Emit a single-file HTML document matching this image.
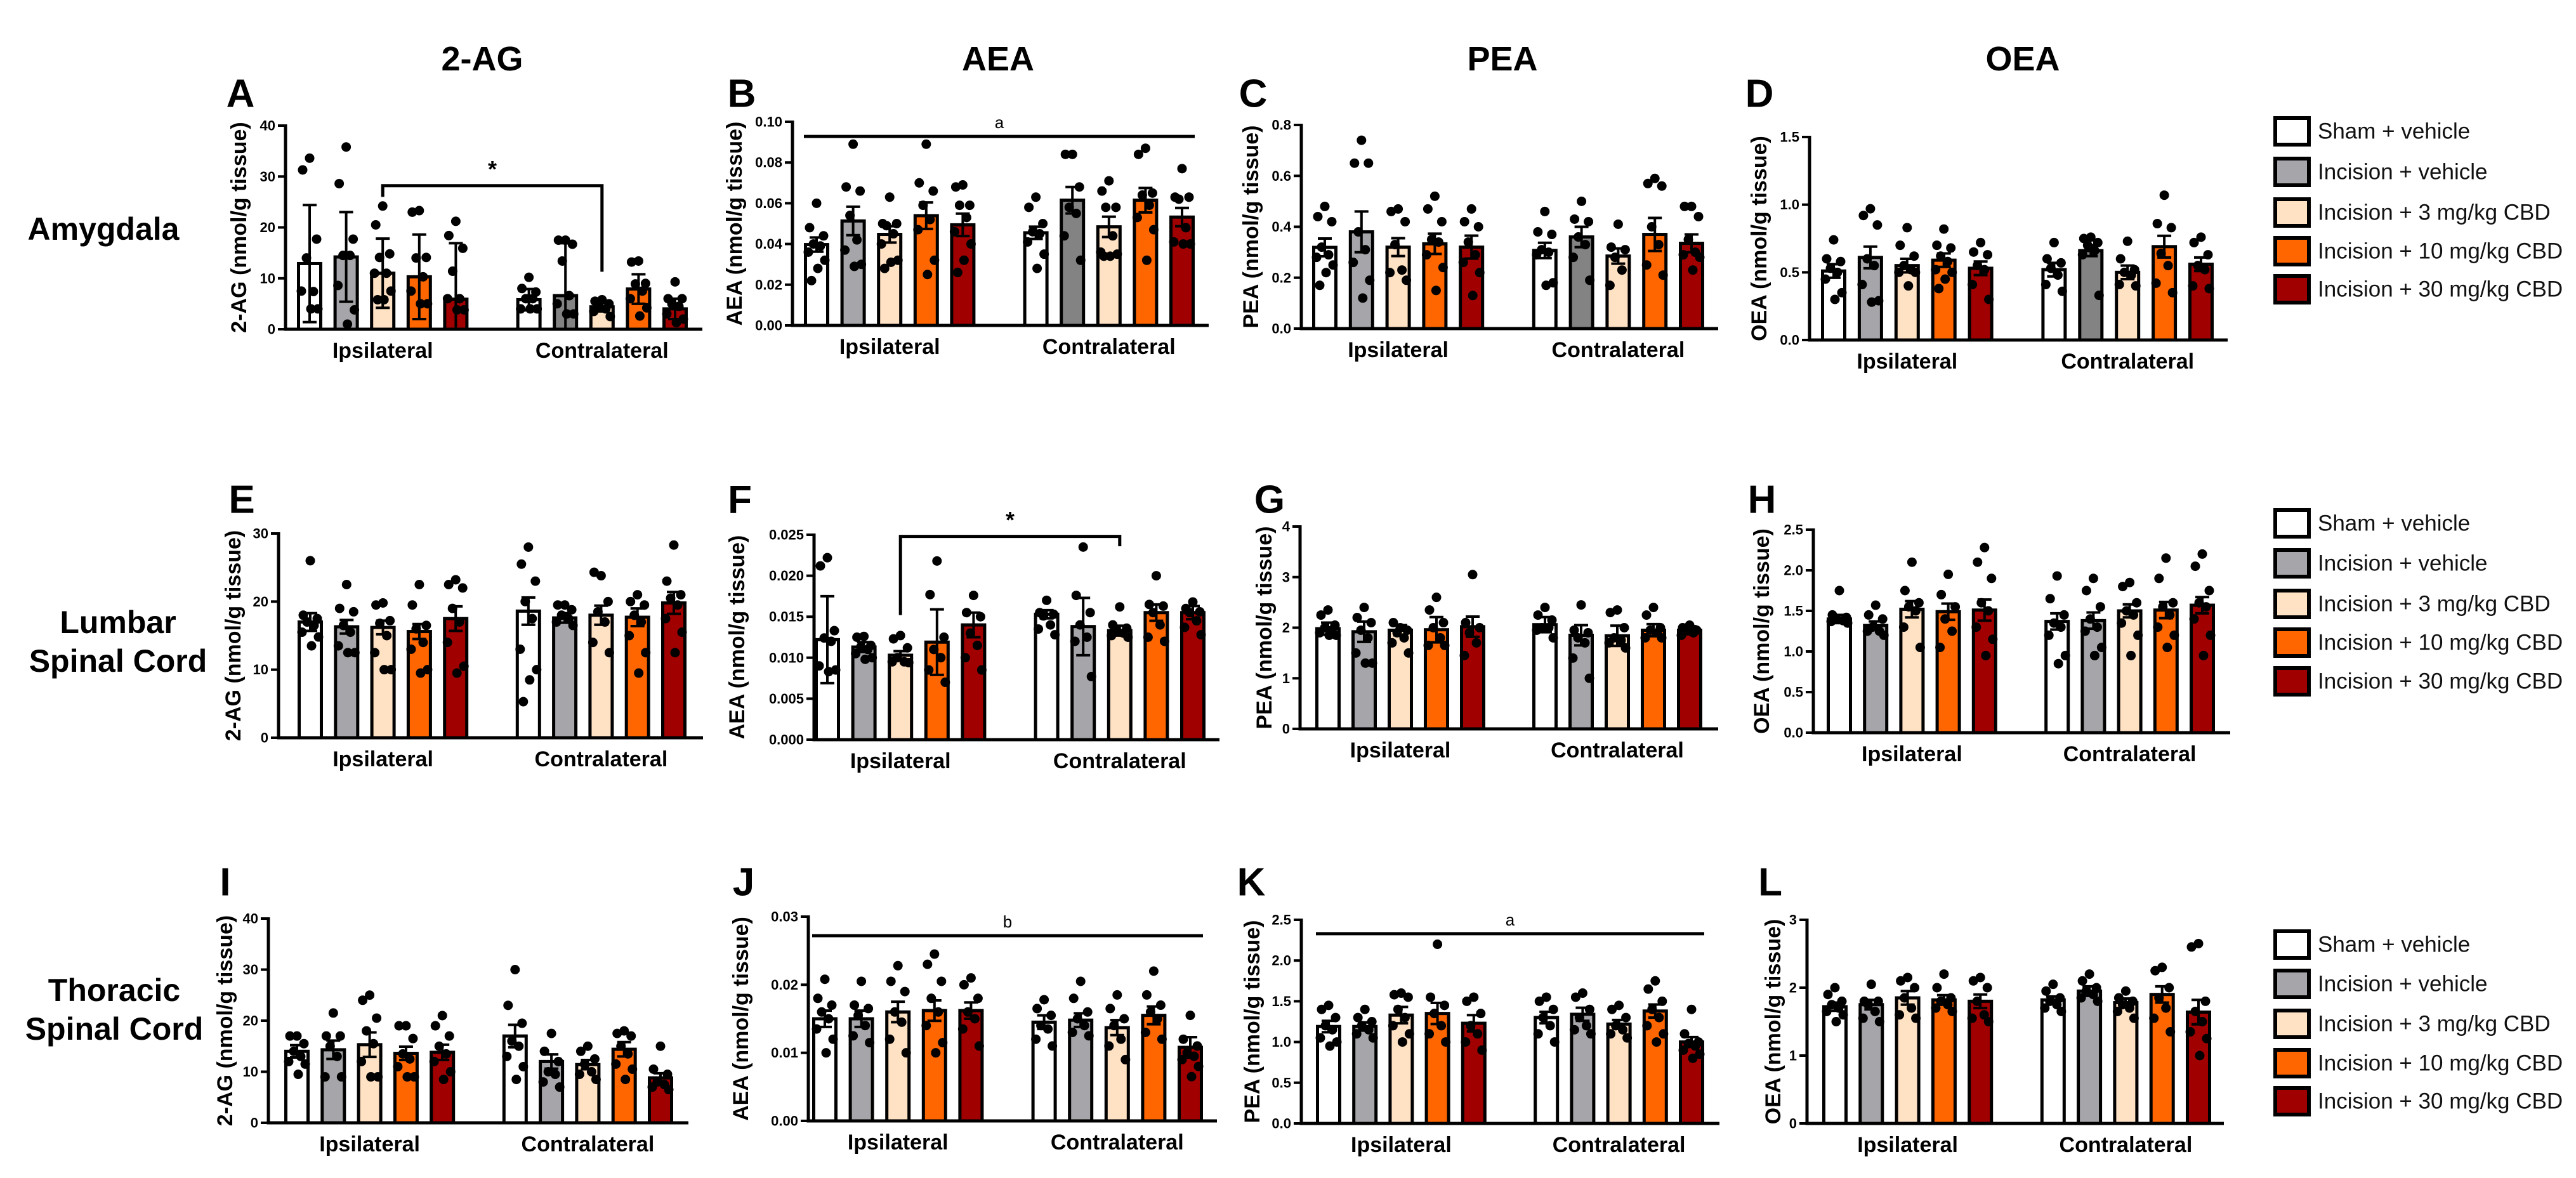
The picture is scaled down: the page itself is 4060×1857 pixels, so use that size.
<!DOCTYPE html>
<html><head><meta charset="utf-8"><style>
html,body{margin:0;padding:0;background:#fff;}
svg{display:block;font-family:"Liberation Sans",Arial,sans-serif;}
</style></head><body>
<svg id="fig" width="4060" height="1857" viewBox="0 0 4060 1857" xmlns="http://www.w3.org/2000/svg"></svg>
<script>
// ---------- DATA ----------
const groupNames = ["Sham + vehicle","Incision + vehicle","Incision + 3 mg/kg CBD","Incision + 10 mg/kg CBD","Incision + 30 mg/kg CBD"];
const sides = ["Ipsilateral","Contralateral"];

const A_ticks = ["0","10","20","30","40"];
const A_means = [12.9,14.2,11.0,10.3,5.9, 5.8,6.6,4.4,7.9,4.0];
const A_err = [11.5,8.8,6.8,8.3,11.0, 2.1,10.3,0.9,2.9,2.0];
const A_pts = [[33.6,31.3,17.7,14.0,7.4,7.5,4.0,4.0],[35.8,28.6,17.7,14.5,14.5,8.6,3.8,1.0],[24.2,20.5,14.8,14.1,11.0,11.0,7.5,5.8,5.8],[23.3,23.0,14.1,14.0,10.3,7.5,5.0,5.0],[21.2,18.4,15.9,11.4,6.0,6.0,3.8,3.8],
 [10.2,8.0,7.3,6.0,6.0,4.0,4.0,4.0],[17.5,17.5,16.7,13.4,6.6,5.0,3.0,3.0],[5.8,5.5,5.0,4.6,4.0,3.5,2.5],[13.4,13.2,9.0,8.9,7.5,6.0,4.2,2.6],[9.3,6.0,6.0,5.0,4.5,3.0,2.0,1.3]];

const B_ticks = ["0.00","0.02","0.04","0.06","0.08","0.10"];
const B_means = [0.0397,0.0513,0.0447,0.0539,0.0494, 0.0455,0.0615,0.0484,0.0615,0.0532];
const B_err = [0.0035,0.007,0.004,0.0065,0.0055, 0.003,0.0065,0.005,0.006,0.0045];
const B_pts = [[0.060,0.048,0.044,0.040,0.039,0.036,0.032,0.028,0.022],[0.089,0.068,0.066,0.054,0.042,0.037,0.030,0.029],[0.063,0.050,0.050,0.049,0.045,0.040,0.032,0.031,0.028],[0.089,0.070,0.066,0.059,0.052,0.047,0.032,0.025],[0.069,0.068,0.059,0.059,0.053,0.046,0.040,0.032,0.026],
 [0.063,0.058,0.050,0.046,0.045,0.041,0.035,0.028],[0.084,0.084,0.068,0.058,0.055,0.044,0.032],[0.071,0.066,0.058,0.058,0.044,0.036,0.035,0.034,0.034],[0.087,0.084,0.065,0.064,0.059,0.053,0.047,0.032],[0.077,0.063,0.063,0.062,0.048,0.041,0.040,0.040]];

const C_ticks = ["0.0","0.2","0.4","0.6","0.8"];
const C_means = [0.319,0.38,0.32,0.333,0.32, 0.307,0.36,0.285,0.37,0.335];
const C_err = [0.035,0.08,0.035,0.04,0.045, 0.03,0.04,0.03,0.065,0.035];
const C_pts = [[0.48,0.44,0.42,0.32,0.29,0.28,0.25,0.22,0.17],[0.74,0.65,0.65,0.38,0.31,0.26,0.19,0.12],[0.47,0.46,0.42,0.33,0.23,0.22,0.19],[0.52,0.47,0.42,0.35,0.34,0.29,0.24,0.15],[0.47,0.42,0.40,0.34,0.29,0.26,0.22,0.13],
 [0.46,0.38,0.37,0.31,0.30,0.29,0.18,0.17],[0.50,0.43,0.42,0.36,0.33,0.28,0.19],[0.41,0.32,0.31,0.28,0.23,0.17],[0.59,0.57,0.56,0.40,0.33,0.25,0.21],[0.48,0.48,0.44,0.35,0.30,0.29,0.28,0.23]];

const D_ticks = ["0.0","0.5","1.0","1.5"];
const D_means = [0.51,0.61,0.55,0.59,0.53, 0.52,0.66,0.50,0.69,0.56];
const D_err = [0.05,0.08,0.05,0.05,0.05, 0.05,0.04,0.05,0.08,0.05];
const D_pts = [[0.74,0.60,0.58,0.53,0.50,0.45,0.35,0.30],[0.97,0.92,0.85,0.60,0.55,0.41,0.29,0.28],[0.83,0.70,0.62,0.55,0.52,0.50,0.50,0.40],[0.82,0.70,0.68,0.62,0.58,0.52,0.50,0.45,0.38],[0.72,0.65,0.63,0.55,0.52,0.41,0.30],
 [0.72,0.60,0.57,0.53,0.48,0.41,0.36],[0.76,0.75,0.72,0.70,0.66,0.63,0.33],[0.73,0.60,0.52,0.50,0.48,0.41,0.40],[1.07,0.86,0.83,0.64,0.55,0.42,0.35],[0.76,0.72,0.63,0.55,0.52,0.40,0.38]];

const E_ticks = ["0","10","20","30"];
const E_means = [17.0,16.3,16.2,15.6,17.5, 18.6,17.6,18.0,17.7,19.8];
const E_err = [1.3,1.0,1.0,1.1,1.8, 2.0,0.7,1.4,1.3,1.6];
const E_pts = [[26.0,18.0,17.5,17.0,16.5,15.5,14.8,13.5],[22.5,19.0,18.5,16.5,15.5,13.5,12.5,12.5],[19.8,19.5,17.2,16.8,15.0,12.5,10.0,10.0],[22.5,19.5,16.5,16.0,14.0,13.0,10.0,9.5],[23.2,22.5,22.0,19.0,17.0,14.0,10.5,9.5],
 [28.0,25.5,23.0,20.0,17.5,13.0,10.0,8.5,5.3],[19.5,19.5,18.8,18.0,17.5,17.0,16.5],[23.8,24.3,20.0,18.5,17.0,14.0,12.5],[21.0,20.0,19.5,18.0,17.0,15.0,12.5,9.5],[28.3,23.0,21.0,20.5,19.5,17.5,15.5,12.5]];

const F_ticks = ["0.000","0.005","0.010","0.015","0.020","0.025"];
const F_means = [0.0122,0.0113,0.0103,0.0119,0.0140, 0.0153,0.0138,0.0133,0.0155,0.0155];
const F_err = [0.0053,0.0006,0.0005,0.0040,0.0015, 0.0005,0.0035,0.0006,0.0010,0.0008];
const F_pts = [[0.0222,0.0212,0.0133,0.0124,0.0120,0.0090,0.0085,0.0083],[0.0126,0.0125,0.0115,0.0113,0.0110,0.0105,0.0100,0.0098],[0.0127,0.0123,0.0112,0.0100,0.0095,0.0095,0.0094],[0.0218,0.0177,0.0125,0.0110,0.0100,0.0085,0.0070],[0.0176,0.0155,0.0150,0.0130,0.0115,0.0100,0.0085],
 [0.0170,0.0155,0.0153,0.0151,0.0140,0.0135,0.0128],[0.0235,0.0176,0.0155,0.0140,0.0125,0.0120,0.0077],[0.0162,0.0140,0.0136,0.0132,0.0130,0.0127,0.0125],[0.0200,0.0165,0.0163,0.0155,0.0140,0.0125,0.0120],[0.0168,0.0160,0.0156,0.0155,0.0145,0.0137,0.0128]];

const G_ticks = ["0","1","2","3","4"];
const G_means = [1.98,1.92,1.95,1.96,2.02, 2.06,1.85,1.84,1.95,1.95];
const G_err = [0.12,0.2,0.1,0.25,0.2, 0.15,0.2,0.2,0.12,0.08];
const G_pts = [[2.35,2.25,2.05,2.0,1.95,1.9,1.85,1.85],[2.4,2.2,2.1,1.95,1.8,1.5,1.3,1.3],[2.0,2.1,1.95,1.9,1.8,1.7,1.5],[2.6,2.35,2.1,2.0,1.8,1.65,1.65],[3.05,2.1,2.0,1.9,1.7,1.45],
 [2.4,2.25,2.15,2.0,2.0,1.95,1.8],[2.45,1.95,1.9,1.8,1.7,1.4,1.0],[2.35,2.3,2.0,1.8,1.75,1.7,1.6],[2.4,2.25,2.0,1.95,1.9,1.8,1.8],[2.05,2.0,1.95,1.95,1.9,1.85]];

const H_ticks = ["0.0","0.5","1.0","1.5","2.0","2.5"];
const H_means = [1.40,1.32,1.52,1.49,1.51, 1.37,1.38,1.50,1.51,1.57];
const H_err = [0.05,0.05,0.1,0.1,0.13, 0.1,0.1,0.08,0.1,0.1];
const H_pts = [[1.75,1.45,1.42,1.40,1.38,1.37,1.35],[1.57,1.45,1.40,1.30,1.25,1.25,1.2],[2.1,1.75,1.6,1.55,1.5,1.3,1.05],[1.95,1.7,1.55,1.4,1.25,1.05],[2.28,2.1,1.9,1.6,1.5,1.3,1.15,0.95],
 [1.93,1.65,1.45,1.35,1.3,1.2,0.95,0.85],[1.9,1.75,1.55,1.4,1.3,1.25,1.05,0.95],[1.85,1.8,1.6,1.5,1.45,1.35,1.2,0.95],[2.15,1.9,1.6,1.55,1.45,1.3,1.2,1.05],[2.2,2.05,1.75,1.6,1.55,1.4,1.2,0.95]];

const I_ticks = ["0","10","20","30","40"];
const I_means = [14.0,14.3,15.3,13.6,13.8, 17.0,12.0,11.4,14.4,8.8];
const I_err = [1.2,1.8,2.4,1.3,1.5, 2.2,1.4,0.9,1.4,0.9];
const I_pts = [[17.0,17.0,15.5,14.0,13.0,12.0,11.5,9.5],[21.5,17.0,17.0,15.0,13.0,9.0,9.0],[25.0,24.0,20.5,18.0,15.5,12.0,9.0,9.0],[19.0,19.0,16.5,13.5,12.5,11.0,9.0,9.0],[21.0,19.0,17.0,15.0,13.5,12.0,10.0,8.5],
 [30.0,23.0,19.5,16.0,15.0,13.0,11.0,8.5],[17.5,14.0,12.0,10.0,9.5,8.0,7.0],[15.0,14.0,12.5,11.5,10.0,9.5,8.5],[18.0,17.5,17.0,15.0,13.5,11.5,10.5,8.5],[15.0,10.5,9.5,8.0,7.5,7.0,6.5]];

const J_ticks = ["0.00","0.01","0.02","0.03"];
const J_means = [0.0150,0.0150,0.0160,0.0162,0.0162, 0.0145,0.0148,0.0137,0.0155,0.0108];
const J_err = [0.0012,0.0012,0.0015,0.0015,0.0012, 0.001,0.001,0.0011,0.0013,0.0015];
const J_pts = [[0.0208,0.0180,0.0170,0.0160,0.0150,0.0135,0.0120,0.0100],[0.0205,0.0170,0.0165,0.0155,0.0140,0.0125,0.0115],[0.0228,0.0205,0.0190,0.0160,0.0145,0.0120,0.0100],[0.0245,0.0230,0.0205,0.0180,0.0160,0.0140,0.0115,0.0100],[0.0210,0.0200,0.0180,0.0160,0.0150,0.0135,0.0110],
 [0.0178,0.0165,0.0155,0.0140,0.0135,0.0120,0.0110],[0.0205,0.0180,0.0160,0.0150,0.0140,0.0130,0.0125],[0.0185,0.0165,0.0150,0.0140,0.0120,0.0110,0.0090],[0.0220,0.0185,0.0170,0.0160,0.0150,0.0130,0.0120],[0.0155,0.0120,0.0110,0.0100,0.0095,0.0090,0.0080,0.0065]];

const K_ticks = ["0.0","0.5","1.0","1.5","2.0","2.5"];
const K_means = [1.19,1.19,1.33,1.35,1.23, 1.30,1.34,1.22,1.38,1.00];
const K_err = [0.07,0.05,0.1,0.13,0.1, 0.07,0.08,0.05,0.08,0.06];
const K_pts = [[1.45,1.40,1.30,1.20,1.15,1.05,1.0,0.95],[1.40,1.30,1.25,1.20,1.15,1.10,1.05],[1.60,1.58,1.55,1.40,1.30,1.20,1.10,1.00],[2.20,1.55,1.45,1.35,1.20,1.10,1.00],[1.55,1.50,1.35,1.20,1.10,1.00,0.90],
 [1.55,1.50,1.40,1.30,1.20,1.10,1.00],[1.60,1.55,1.40,1.30,1.20,1.15,1.10],[1.45,1.40,1.30,1.20,1.15,1.10,1.05],[1.75,1.65,1.50,1.40,1.30,1.20,1.10,1.00],[1.40,1.10,1.00,0.98,0.95,0.90,0.85,0.80]];

const L_ticks = ["0","1","2","3"];
const L_means = [1.72,1.75,1.85,1.82,1.80, 1.82,1.95,1.78,1.90,1.64];
const L_err = [0.06,0.07,0.1,0.07,0.1, 0.05,0.07,0.06,0.12,0.18];
const L_pts = [[2.0,1.9,1.8,1.75,1.7,1.65,1.6,1.5],[2.05,1.8,1.8,1.75,1.65,1.55,1.5],[2.15,2.1,2.0,1.85,1.7,1.6,1.55],[2.2,2.0,1.85,1.8,1.75,1.7,1.65],[2.15,2.1,2.0,1.8,1.6,1.55,1.5],
 [2.05,1.95,1.85,1.8,1.75,1.7,1.65],[2.2,2.1,2.0,1.95,1.9,1.85,1.8],[1.95,1.85,1.8,1.75,1.7,1.65,1.55],[2.3,2.25,2.0,1.85,1.7,1.55,1.35],[2.65,2.6,1.8,1.65,1.5,1.35,1.25,1.0]];

// ---------- STYLE / LAYOUT ----------
const NS = "http://www.w3.org/2000/svg";
const svg = document.getElementById("fig");
const fillLight = ["#ffffff","#a6a6aa","#ffe1c4","#ff6600","#a00000"];
const fillRow1Contra = ["#ffffff","#838383","#ffe1c4","#ff6600","#a00000"];
const jitter = [0,-11,11,-5,6,-13,13,2,-8,9];

function mk(tag, attrs, parent, text){
  const el = document.createElementNS(NS, tag);
  for (const k in attrs) el.setAttribute(k, attrs[k]);
  if (text !== undefined) el.textContent = text;
  (parent || svg).appendChild(el);
  return el;
}

const panels = [
 {id:"A", ytitle:"2-AG (nmol/g tissue)", means:A_means, err:A_err, pts:A_pts, ticks:A_ticks, ax:450, top:198, zero:519, first:488, last:1064, end:1107, tx:377, lx:379, ly:148, row:1},
 {id:"B", ytitle:"AEA (nmol/g tissue)", means:B_means, err:B_err, pts:B_pts, ticks:B_ticks, ax:1249, top:192, zero:513, first:1287, last:1863, end:1905, tx:1158, lx:1169, ly:148, row:1},
 {id:"C", ytitle:"PEA (nmol/g tissue)", means:C_means, err:C_err, pts:C_pts, ticks:C_ticks, ax:2051, top:197, zero:518, first:2088, last:2666, end:2708, tx:1972, lx:1975, ly:148, row:1},
 {id:"D", ytitle:"OEA (nmol/g tissue)", means:D_means, err:D_err, pts:D_pts, ticks:D_ticks, ax:2852, top:216, zero:536, first:2890, last:3469, end:3511, tx:2773, lx:2773, ly:148, row:1},
 {id:"E", ytitle:"2-AG (nmol/g tissue)", means:E_means, err:E_err, pts:E_pts, ticks:E_ticks, ax:439, top:841, zero:1163, first:489, last:1062, end:1108, tx:368, lx:381, ly:788, row:2},
 {id:"F", ytitle:"AEA (nmol/g tissue)", means:F_means, err:F_err, pts:F_pts, ticks:F_ticks, ax:1283, top:843, zero:1166, first:1304, last:1880, end:1922, tx:1162, lx:1166, ly:788, row:2},
 {id:"G", ytitle:"PEA (nmol/g tissue)", means:G_means, err:G_err, pts:G_pts, ticks:G_ticks, ax:2049, top:830, zero:1149, first:2093, last:2663, end:2708, tx:1993, lx:2001, ly:788, row:2},
 {id:"H", ytitle:"OEA (nmol/g tissue)", means:H_means, err:H_err, pts:H_pts, ticks:H_ticks, ax:2858, top:835, zero:1155, first:2899, last:3471, end:3515, tx:2777, lx:2777, ly:788, row:2},
 {id:"I", ytitle:"2-AG (nmol/g tissue)", means:I_means, err:I_err, pts:I_pts, ticks:I_ticks, ax:423, top:1448, zero:1770, first:468, last:1041, end:1085, tx:355, lx:355, ly:1391, row:3},
 {id:"J", ytitle:"AEA (nmol/g tissue)", means:J_means, err:J_err, pts:J_pts, ticks:J_ticks, ax:1274, top:1445, zero:1767, first:1300, last:1876, end:1918, tx:1168, lx:1172, ly:1391, row:3},
 {id:"K", ytitle:"PEA (nmol/g tissue)", means:K_means, err:K_err, pts:K_pts, ticks:K_ticks, ax:2051, top:1450, zero:1771, first:2094, last:2666, end:2710, tx:1974, lx:1972, ly:1391, row:3},
 {id:"L", ytitle:"OEA (nmol/g tissue)", means:L_means, err:L_err, pts:L_pts, ticks:L_ticks, ax:2848, top:1450, zero:1771, first:2892, last:3465, end:3505, tx:2795, lx:2790, ly:1391, row:3}
];

function scales(p){
  const tv = p.ticks.map(parseFloat);
  const ymax = tv[tv.length-1];
  const y = v => p.zero - v / ymax * (p.zero - p.top);
  const step = (p.last - p.first) / 10;
  const x = i => p.first + (i < 5 ? i : i + 1) * step;
  return {x, y, tv};
}

function drawPanel(p){
  const g = mk("g", {});
  
  
  const {x, y, tv} = scales(p);
  p.means.forEach((m, i) => {
    const cx = x(i);
    const fills = (p.row === 1 && i >= 5) ? fillRow1Contra : fillLight;
    const r = mk("rect", {x: cx - 17.5, y: y(m), width: 35, height: p.zero - y(m), fill: fills[i % 5], stroke: "#000", "stroke-width": 5}, g);
    
    
  });
  p.pts.forEach((arr, i) => {
    const cx = x(i);
    arr.forEach((v, k) => {
      const c = mk("circle", {cx: cx + jitter[k % jitter.length], cy: y(v), r: 7.5, fill: "#000"}, g);
      
      
    });
  });
  p.means.forEach((m, i) => {
    const cx = x(i);
    const e = p.err[i];
    const lo = Math.max(0, m - e), hi = m + e;
    const eg = mk("g", {stroke: "#000", "stroke-width": 4}, g);
    
    
    mk("line", {x1: cx, x2: cx, y1: y(lo), y2: y(hi)}, eg);
    mk("line", {x1: cx - 11, x2: cx + 11, y1: y(hi), y2: y(hi)}, eg);
    mk("line", {x1: cx - 11, x2: cx + 11, y1: y(lo), y2: y(lo)}, eg);
  });
  const yax = mk("line", {x1: p.ax, x2: p.ax, y1: p.top - 2, y2: p.zero + 2.5, stroke: "#000", "stroke-width": 5}, g);
  
  
  const xax = mk("line", {x1: p.ax - 2.5, x2: p.end, y1: p.zero, y2: p.zero, stroke: "#000", "stroke-width": 5}, g);
  
  
  tv.forEach((v, k) => {
    mk("line", {x1: p.ax - 12, x2: p.ax, y1: y(v), y2: y(v), stroke: "#000", "stroke-width": 4}, g);
    const t = mk("text", {x: p.ax - 16, y: y(v), "text-anchor": "end", "dominant-baseline": "central", "font-size": 22, "font-weight": "bold"}, g, p.ticks[k]);
    
    
  });
  const cy = (p.top + p.zero) / 2;
  const yt = mk("text", {x: p.tx, y: cy, "text-anchor": "middle", "dominant-baseline": "central", "font-size": 34, "font-weight": "bold", transform: "rotate(-90 " + p.tx + " " + cy + ")"}, g, p.ytitle);
  
  
  [0, 1].forEach(s => {
    const cx = (x(s * 5) + x(s * 5 + 4)) / 2;
    const gl = mk("text", {x: cx, y: p.zero + 34, "text-anchor": "middle", "dominant-baseline": "central", "font-size": 34, "font-weight": "bold"}, g, sides[s]);
    
    
  });
  const pl = mk("text", {x: p.lx, y: p.ly, "text-anchor": "middle", "dominant-baseline": "central", "font-size": 62, "font-weight": "bold"}, g, p.id);
  
  
  p.sx = x; p.sy = y;
}
panels.forEach(drawPanel);

function bracket(p, i1, i2, yv, leg1, leg2, label, name){
  const x = p.sx, y = p.sy;
  const g = mk("g", {});
  
  
  mk("polyline", {points: x(i1) + "," + y(leg1) + " " + x(i1) + "," + y(yv) + " " + x(i2) + "," + y(yv) + " " + x(i2) + "," + y(leg2), fill: "none", stroke: "#000", "stroke-width": 5}, g);
  mk("text", {x: (x(i1) + x(i2)) / 2, y: y(yv) - 26, "text-anchor": "middle", "dominant-baseline": "central", "font-size": 36, "font-weight": "bold"}, g, label);
}
function spanLine(p, yv, label, name){
  const x = p.sx, y = p.sy;
  const g = mk("g", {});
  
  
  mk("line", {x1: x(0) - 20, x2: x(9) + 20, y1: y(yv), y2: y(yv), stroke: "#000", "stroke-width": 5}, g);
  mk("text", {x: (x(0) + x(9)) / 2, y: y(yv) - 22, "text-anchor": "middle", "dominant-baseline": "central", "font-size": 26}, g, label);
}
const P = id => panels.find(p => p.id === id);
bracket(P("A"), 2, 7, 28.2, 26.0, 11.3, "*", "significance-bracket-a");
bracket(P("F"), 2, 7, 0.0248, 0.0152, 0.0236, "*", "significance-bracket-f");
spanLine(P("B"), 0.0928, "a", "significance-line-b");
spanLine(P("J"), 0.0272, "b", "significance-line-j");
spanLine(P("K"), 2.33, "a", "significance-line-k");

[["2-AG",760],["AEA",1573],["PEA",2368],["OEA",3188]].forEach(([t, cx]) => {
  const el = mk("text", {x: cx, y: 93, "text-anchor": "middle", "dominant-baseline": "central", "font-size": 54, "font-weight": "bold"}, svg, t);
  
  
});
[[["Amygdala"],163,[361]],[["Lumbar","Spinal Cord"],186,[981,1042]],[["Thoracic","Spinal Cord"],180,[1561,1622]]].forEach(([lines, cx, ys]) => {
  lines.forEach((t, k) => {
    const el = mk("text", {x: cx, y: ys[k], "text-anchor": "middle", "dominant-baseline": "central", "font-size": 50, "font-weight": "bold"}, svg, t);
    
    
  });
});
[[207,271,335,396,456],[825,888,952,1013,1074],[1489,1551,1614,1676,1736]].forEach((ys, r) => {
  const lg = mk("g", {});
  
  
  ys.forEach((yc, k) => {
    const e = mk("g", {}, lg);
    
    
    mk("rect", {x: 3586, y: yc - 21, width: 53, height: 42, fill: fillLight[k], stroke: "#000", "stroke-width": 6}, e);
    mk("text", {x: 3653, y: yc, "dominant-baseline": "central", "font-size": 35, fill: "#111"}, e, groupNames[k]);
  });
});
</script>
</body></html>
